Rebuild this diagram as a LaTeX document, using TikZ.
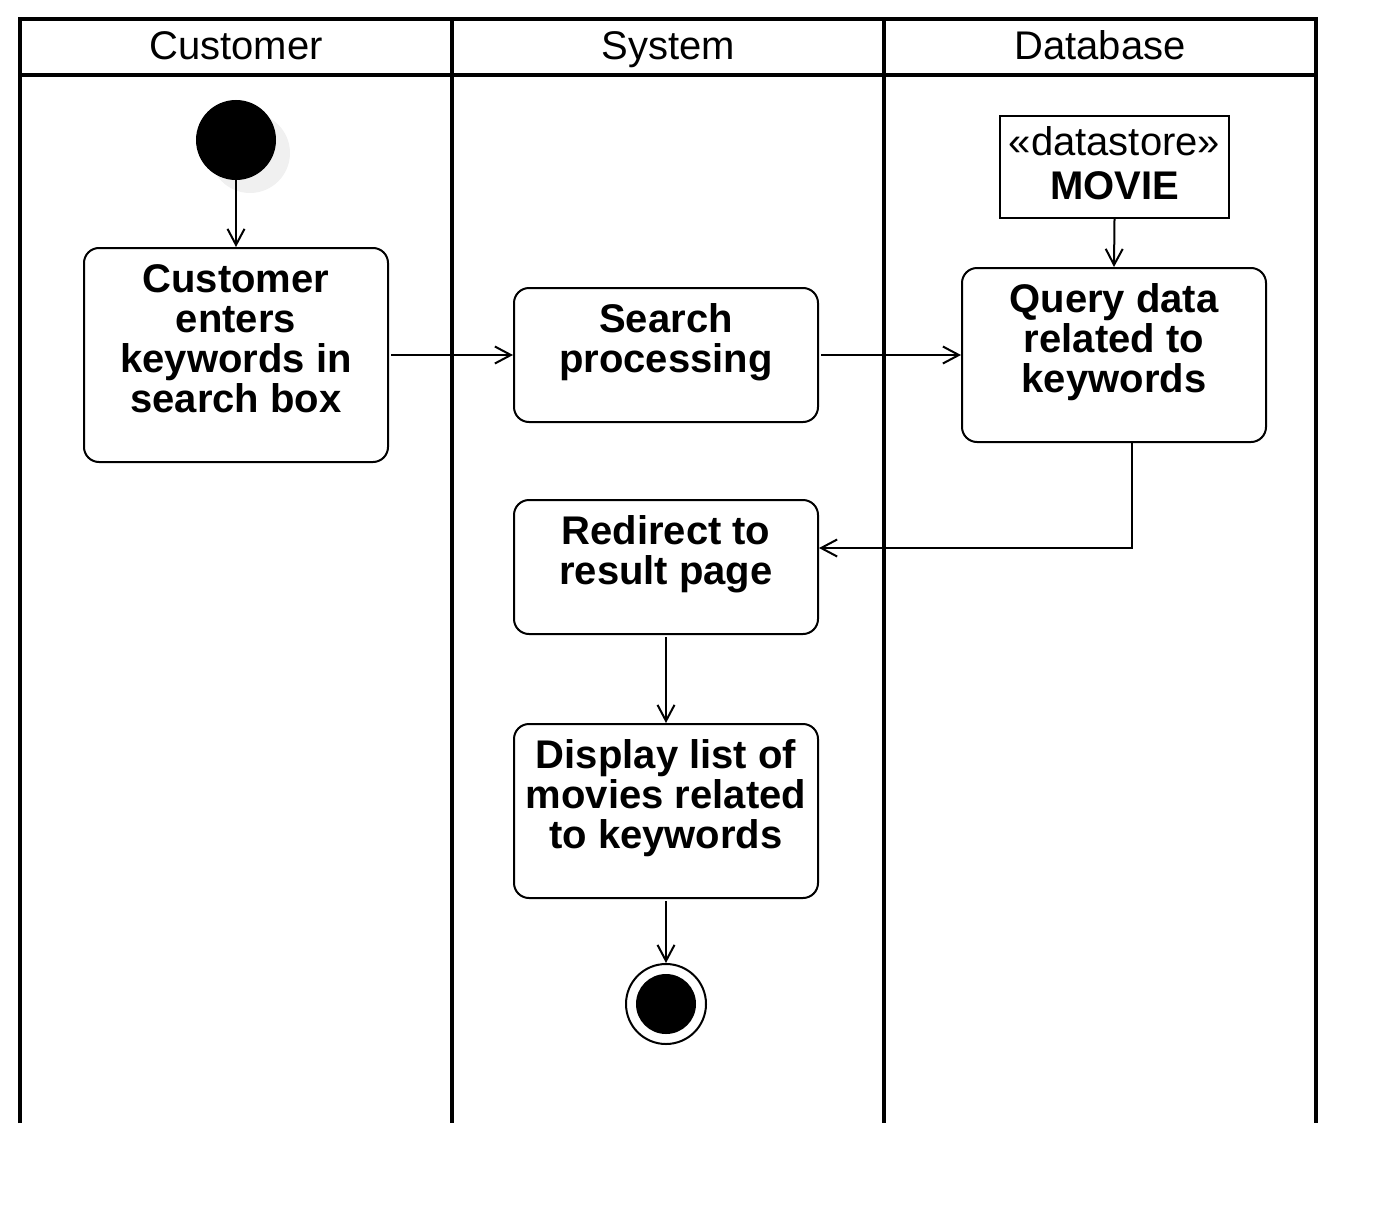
\documentclass[tikz,border=0pt]{standalone}
\usepackage{fontspec}
\setmainfont{Liberation Sans}
\usetikzlibrary{arrows.meta}
\begin{document}
\begin{tikzpicture}[x=1pt,y=-1pt,
  pool/.style={line width=4pt},
  act/.style={draw, line width=2pt, rounded corners=15pt, inner sep=0pt},
  txt/.style={align=center, inner sep=0pt, font=\fontsize{40}{40}\selectfont\bfseries, anchor=base},
  hdr/.style={inner sep=0pt, font=\fontsize{40}{40}\selectfont, anchor=base},
  flow/.style={line width=2pt, -{Straight Barb[length=16pt,width=17pt,line width=2pt]}}
]
\useasboundingbox (0,0) rectangle (1396,1204);
% pool
\draw[pool] (20,1123) -- (20,19) -- (1316,19) -- (1316,1123);
\draw[pool] (20,75) -- (1316,75);
\draw[pool] (452,19) -- (452,1123);
\draw[pool] (884,19) -- (884,1123);
\node[hdr] (h1) at (236,60) {Customer};
\node[hdr] (h2) at (668,60) {System};
\node[hdr] (h3) at (1100,60) {Database};
% start
\fill[gray!12] (250,153) circle (40);
\node[circle, fill=black, minimum size=80pt, inner sep=0pt] (start) at (236,140) {};
% boxes
\node[act, minimum width=304pt, minimum height=214pt] (b1) at (236,355) {};
\node[txt] (t1) at (236,412) {Customer\\enters\\keywords in\\search box};
\node[act, minimum width=304pt, minimum height=134pt] (b2) at (666,355) {};
\node[txt] (t2) at (666,372) {Search\\processing};
\node[act, minimum width=304pt, minimum height=174pt] (b3) at (1114,355) {};
\node[txt] (t3) at (1114,392) {Query data\\related to\\keywords};
\node[draw, line width=2pt, minimum width=229pt, minimum height=102pt, inner sep=0pt] (ds) at (1114.5,167) {};
\node[hdr] (d1) at (1114.5,155) {«datastore»};
\node[txt] (d2) at (1114.5,199) {MOVIE};
\node[act, minimum width=304pt, minimum height=134pt] (b4) at (666,567) {};
\node[txt] (t4) at (666,584) {Redirect to\\result page};
\node[act, minimum width=304pt, minimum height=174pt] (b5) at (666,811) {};
\node[txt] (t5) at (666,848) {Display list of\\movies related\\to keywords};
% end
\node[circle, draw, line width=2pt, minimum size=80pt, inner sep=0pt] (end) at (666,1004) {};
\fill[black] (end.center) circle (30);
% flows
\draw[flow] (start.south) -- (b1.north);
\draw[flow] (b1.east) ++(2,0) -- (b2.west);
\draw[flow] (b2.east) ++(2,0) -- (b3.west);
\draw[flow] (ds.south) -- (b3.north);
\draw[flow] (b3.south -| 1132,0) |- (b4.east |- 0,548);
\draw[flow] (b4.south) ++(0,2) -- (b5.north);
\draw[flow] (b5.south) ++(0,2) -- (end.north);
\end{tikzpicture}
\end{document}
